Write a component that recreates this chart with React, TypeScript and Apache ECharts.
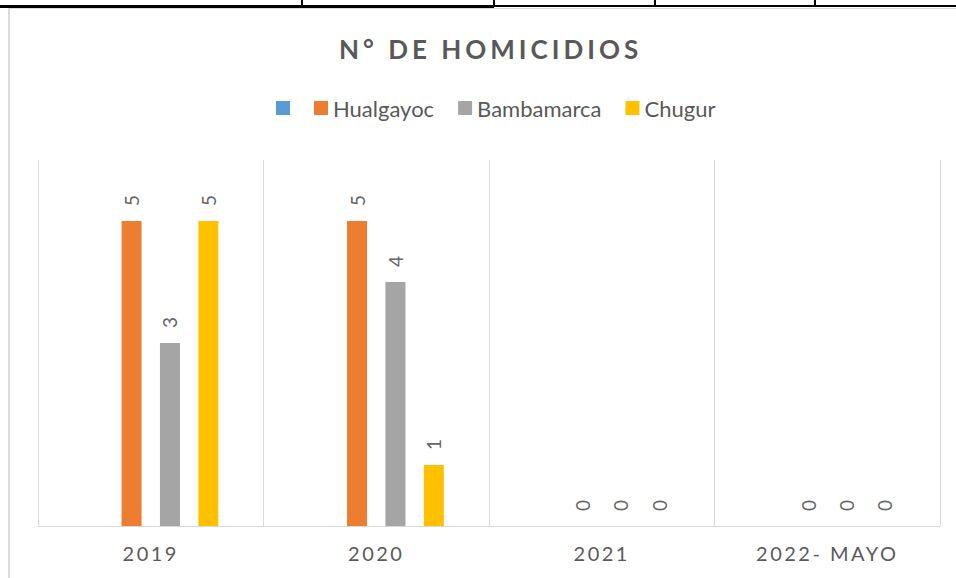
import React, { useEffect, useRef } from 'react';
import * as echarts from 'echarts';

const titleText = 'N° DE HOMICIDIOS';
const categories = ['2019', '2020', '2021', '2022- MAYO'];
const seriesNames = ['Serie1', 'Hualgayoc', 'Bambamarca', 'Chugur'];
const serie1Values: (number | null)[] = [null, null, null, null];
const hualgayocValues = [5, 5, 0, 0];
const bambamarcaValues = [3, 4, 0, 0];
const chugurValues = [5, 1, 0, 0];
const colors = ['#5b9bd5', '#ed7d31', '#a5a5a5', '#ffc000'];

const FONT = 'Lato, "Open Sans", "DejaVu Sans", sans-serif';
const TITLE_COLOR = '#595959';
const AXIS_COLOR = '#5a5a5a';
const TEXT_COLOR = '#595958';

export default function App() {
  const ref = useRef<HTMLDivElement>(null);

  useEffect(() => {
    if (!ref.current) return;
    const chart = echarts.init(ref.current, undefined, { renderer: 'svg' });
    const valueLists = [serie1Values, hualgayocValues, bambamarcaValues, chugurValues];

    const labelCfg = {
      show: true,
      position: 'top',
      rotate: 90,
      align: 'left',
      verticalAlign: 'middle',
      distance: 15,
      color: '#666666',
      fontFamily: FONT,
      fontSize: 19,
    };

    chart.setOption({
      animation: false,
      backgroundColor: '#ffffff',
      color: colors,
      title: {
        text: titleText,
        left: 334,
        top: 31,
        textStyle: {
          color: TITLE_COLOR,
          fontFamily: FONT,
          fontWeight: 'bold',
          fontSize: 26,
        },
      },
      legend: {
        left: 271,
        top: 92,
        icon: 'rect',
        itemWidth: 14,
        itemHeight: 14,
        itemGap: 24,
        data: seriesNames,
        formatter: (name: string) => (name === seriesNames[0] ? '' : name),
        textStyle: {
          color: TEXT_COLOR,
          fontFamily: FONT,
          fontSize: 22,
        },
      },
      grid: {
        left: 38,
        right: 16,
        top: 160,
        bottom: 52,
        containLabel: false,
      },
      xAxis: {
        type: 'category',
        data: categories,
        boundaryGap: true,
        axisLine: { show: true, lineStyle: { color: '#d9d9d9', width: 1 } },
        axisTick: { show: false },
        splitLine: { show: true, lineStyle: { color: '#d9d9d9', width: 1 } },
        axisLabel: {
          color: AXIS_COLOR,
          fontFamily: FONT,
          fontSize: 20,
          margin: 17,
        },
      },
      yAxis: {
        type: 'value',
        min: 0,
        max: 6,
        interval: 1,
        show: true,
        axisLine: { show: false },
        axisTick: { show: false },
        axisLabel: { show: false },
        splitLine: { show: false },
      },
      series: seriesNames.map((name, i) => ({
        name,
        type: 'bar',
        data: valueLists[i],
        barWidth: 20,
        barGap: '92%',
        itemStyle: { color: colors[i] },
        label: i === 0 ? { show: false } : labelCfg,
      })),
      graphic: [
        { type: 'rect', shape: { x: 0, y: 5, width: 494, height: 3 }, style: { fill: '#000000' } },
        { type: 'rect', shape: { x: 494, y: 5, width: 462, height: 2 }, style: { fill: '#000000' } },
        { type: 'rect', shape: { x: 301, y: 0, width: 2, height: 6 }, style: { fill: '#000000' } },
        { type: 'rect', shape: { x: 493, y: 0, width: 2, height: 6 }, style: { fill: '#000000' } },
        { type: 'rect', shape: { x: 654, y: 0, width: 2, height: 6 }, style: { fill: '#000000' } },
        { type: 'rect', shape: { x: 814, y: 0, width: 2, height: 6 }, style: { fill: '#000000' } },
        { type: 'rect', shape: { x: 9, y: 8, width: 947, height: 1 }, style: { fill: '#d9d9d9' } },
        { type: 'rect', shape: { x: 8, y: 8, width: 2, height: 570 }, style: { fill: '#dcdcdc' } },
      ],
    });

    return () => chart.dispose();
  }, []);

  return (
    <>
      <style>{`
        .chartbox svg text[fill="#595959"] { letter-spacing: 4px; }
        .chartbox svg text[fill="#5a5a5a"] { letter-spacing: 2.5px; }
      `}</style>
      <div
        ref={ref}
        className="chartbox"
        style={{ position: 'fixed', left: 0, top: 0, width: 956, height: 578, background: '#fff' }}
      />
    </>
  );
}
